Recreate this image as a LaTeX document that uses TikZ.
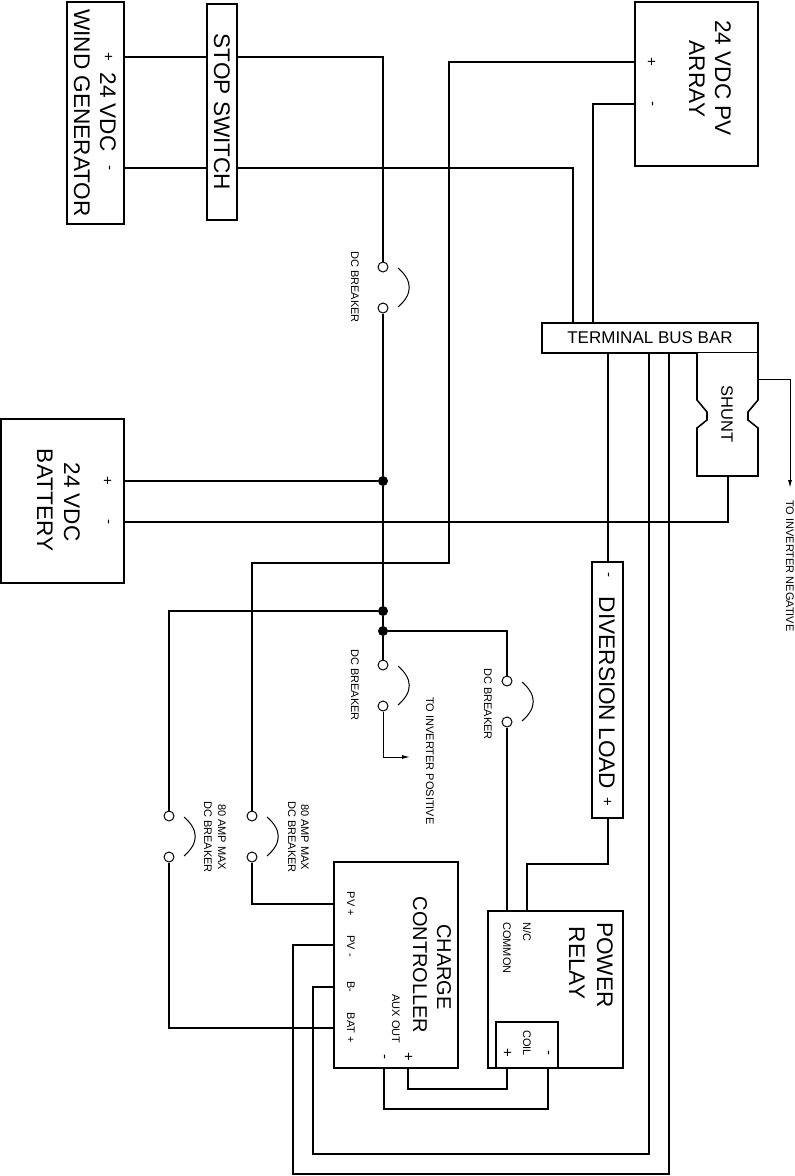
\documentclass[tikz,border=0pt]{standalone}
\usepackage{fontspec}
\setmainfont{Liberation Sans}
\usetikzlibrary{arrows.meta}
\begin{document}
\begin{tikzpicture}[x=1pt,y=-1pt,
  wire/.style={line width=1.7pt},
  thinwire/.style={line width=1pt},
  box/.style={draw, line width=1.6pt, fill=white, inner sep=0pt},
  term/.style={circle, draw, fill=white, line width=1pt, minimum size=10pt, inner sep=0pt},
  jdot/.style={circle, fill=black, minimum size=10pt, inner sep=0pt},
  bigtxt/.style={font=\fontsize{22.6}{26}\selectfont, inner sep=0pt, rotate=-90},
  cctxt/.style={font=\fontsize{20}{24}\selectfont, inner sep=0pt, rotate=-90},
  smalltxt/.style={font=\fontsize{11}{13}\selectfont, inner sep=0pt, rotate=-90},
  pmtxt/.style={font=\fontsize{15}{17}\selectfont, inner sep=0pt, rotate=-90},
  arr/.style={-{Latex[length=8pt,width=4pt]}}
]
\useasboundingbox (0,0) rectangle (795,1176);

% connection points
\coordinate (wgP) at (124,57);
\coordinate (wgN) at (124,168);
\coordinate (pvP) at (635,62);
\coordinate (pvN) at (635,104);
\coordinate (busA) at (573,323);
\coordinate (busB) at (593,323);
\coordinate (busC) at (608,353);
\coordinate (busD) at (649,353);
\coordinate (busE) at (669,353);
\coordinate (busR) at (758,379);
\coordinate (shB) at (728,476);
\coordinate (batP) at (124,481);
\coordinate (batN) at (124,522);
\coordinate (divT) at (608,562);
\coordinate (divB) at (608,818);
\coordinate (relCom) at (507,911);
\coordinate (relNC) at (527,911);
\coordinate (coilP) at (507,1068);
\coordinate (coilN) at (548,1068);
\coordinate (ccPVp) at (334,904);
\coordinate (ccPVn) at (334,945);
\coordinate (ccBn) at (334,987);
\coordinate (ccBATp) at (334,1028);
\coordinate (auxP) at (408,1068);
\coordinate (auxN) at (384,1068);
\coordinate (k1) at (449,563);
\coordinate (k2) at (608,864);
\coordinate (k3) at (313,1154);
\coordinate (k4) at (293,1174);
\coordinate (k5) at (408,1089);
\coordinate (k6) at (384,1109);
\coordinate (invP) at (410,757);
\coordinate (invN) at (790,488);

% breaker terminals and junctions
\node[term] (b1a) at (383,267) {};
\node[term] (b1b) at (383,308) {};
\node[term] (b2a) at (383,665) {};
\node[term] (b2b) at (383,706) {};
\node[term] (b3a) at (507,681) {};
\node[term] (b3b) at (507,722) {};
\node[term] (b4a) at (252,816) {};
\node[term] (b4b) at (252,857) {};
\node[term] (b5a) at (169,816) {};
\node[term] (b5b) at (169,857) {};
\node[jdot] (j1) at (383,481) {};
\node[jdot] (j2) at (383,611) {};
\node[jdot] (j3) at (383,631) {};

% breaker arcs
\foreach \a/\b in {b1a/b1b, b2a/b2b, b3a/b3b, b4a/b4b, b5a/b5b}{
  \draw[line width=1pt] ([shift={(15,1)}]\a.center) .. controls ([shift={(30,14)}]\a.center) and ([shift={(30,-14)}]\b.center) .. ([shift={(15,-1)}]\b.center);
}

% wires
\draw[wire] (wgP) -| (b1a);
\draw[wire] (wgN) -| (busA);
\draw[wire] (pvP) -| (k1) -| (b4a);
\draw[wire] (pvN) -| (busB);
\draw[wire] (b1b) -- (j1);
\draw[wire] (j1) -- (j2);
\draw[wire] (j2) -- (j3);
\draw[wire] (j3) -- (b2a);
\draw[wire] (batP) -- (j1);
\draw[wire] (batN) -| (shB);
\draw[wire] (j2) -| (b5a);
\draw[wire] (j3) -| (b3a);
\draw[wire] (b3b) -- (relCom);
\draw[wire] (busC) -- (divT);
\draw[wire] (divB) -- (k2) -| (relNC);
\draw[wire] (busD) |- (k3) |- (ccBn);
\draw[wire] (busE) |- (k4) |- (ccPVn);
\draw[wire] (b4b) |- (ccPVp);
\draw[wire] (b5b) |- (ccBATp);
\draw[wire] (auxP) -- (k5) -| (coilP);
\draw[wire] (auxN) -- (k6) -| (coilN);
\draw[thinwire, arr] (b2b) |- (invP);
\draw[thinwire, arr] (busR) -| (invN);

% boxes
\node[box, minimum width=57pt, minimum height=222pt] (wg) at (95.5,113) {};
\node[box, rotate=-90, minimum width=216pt, minimum height=30pt, font=\fontsize{22.6}{26}\selectfont] (ss) at (222,112) {STOP SWITCH};
\node[box, minimum width=123pt, minimum height=164pt] (pv) at (696.5,84) {};
\node[box, minimum width=216pt, minimum height=30pt, font=\fontsize{17}{20}\selectfont] (bus) at (650,338) {TERMINAL BUS BAR};
\draw[line width=1.6pt, fill=white] (697,353) -- (697,400) -- (707,412) -- (707,420) -- (697,428) -- (697,476) -- (758,476) -- (758,428) -- (748,420) -- (748,412) -- (758,400) -- (758,353);
\node[box, minimum width=123pt, minimum height=164pt] (bat) at (62.5,501) {};
\node[box, minimum width=31pt, minimum height=256pt] (div) at (607.5,690) {};
\node[box, minimum width=124pt, minimum height=206pt] (cc) at (396,965) {};
\node[box, minimum width=135pt, minimum height=157pt] (rel) at (555.5,989.5) {};
\node[box, minimum width=62pt, minimum height=46pt] (coil) at (527,1045) {};

% texts
\node[bigtxt] (wgt1) at (108,112) {24 VDC};
\node[pmtxt] (wgtp) at (108,57) {+};
\node[pmtxt] (wgtn) at (108,168) {-};
\node[bigtxt] (wgt2) at (82,113) {WIND GENERATOR};

\node[bigtxt] (pvt1) at (723,78) {24 VDC PV};
\node[bigtxt] (pvt2) at (697,79) {ARRAY};
\node[pmtxt] (pvtp) at (651,62) {+};
\node[pmtxt] (pvtn) at (651,104) {-};

\node[font=\fontsize{16.5}{19}\selectfont, inner sep=0pt, rotate=-90] (sht) at (727,414) {SHUNT};
\node[smalltxt, anchor=west] (invnt) at (790,500) {TO INVERTER NEGATIVE};

\node[smalltxt] (br1t) at (355,287) {DC BREAKER};
\node[smalltxt] (br2t) at (355,685) {DC BREAKER};
\node[smalltxt] (br3t) at (488,704) {DC BREAKER};
\node[smalltxt, anchor=west] (invpt) at (430,697) {TO INVERTER POSITIVE};

\node[bigtxt] (batt1) at (72,502) {24 VDC};
\node[bigtxt] (batt2) at (45,500) {BATTERY};
\node[pmtxt] (battp) at (107,481) {+};
\node[pmtxt] (battn) at (107,522) {-};

\node[pmtxt] (divtn) at (607,575) {-};
\node[bigtxt] (divt) at (607,693) {DIVERSION LOAD};
\node[pmtxt] (divtp) at (607,802) {+};

\node[smalltxt] (b5t1) at (222,837) {80 AMP MAX};
\node[smalltxt] (b5t2) at (208,837) {DC BREAKER};
\node[smalltxt] (b4t1) at (305,837) {80 AMP MAX};
\node[smalltxt] (b4t2) at (292,837) {DC BREAKER};

\node[cctxt] (cct1) at (444,967) {CHARGE};
\node[cctxt] (cct2) at (420,965) {CONTROLLER};
\node[smalltxt] (auxt) at (396,1019) {AUX OUT};
\node[pmtxt] (auxtp) at (408,1057) {+};
\node[pmtxt] (auxtn) at (383,1057) {-};
\node[smalltxt] (cc1) at (351,904) {PV +};
\node[smalltxt] (cc2) at (351,946) {PV -};
\node[smalltxt] (cc3) at (351,987) {B-};
\node[smalltxt] (cc4) at (351,1028) {BAT +};

\node[bigtxt] (relt1) at (605,965) {POWER};
\node[bigtxt] (relt2) at (577,963) {RELAY};
\node[smalltxt, anchor=west] (relnc) at (527,922) {N/C};
\node[smalltxt, anchor=west] (relcm) at (507,922) {COMMON};
\node[smalltxt] (coilt) at (527,1043) {COIL};
\node[pmtxt] (coiltp) at (507,1053) {+};
\node[pmtxt] (coiltn) at (547,1053) {-};
\end{tikzpicture}
\end{document}
